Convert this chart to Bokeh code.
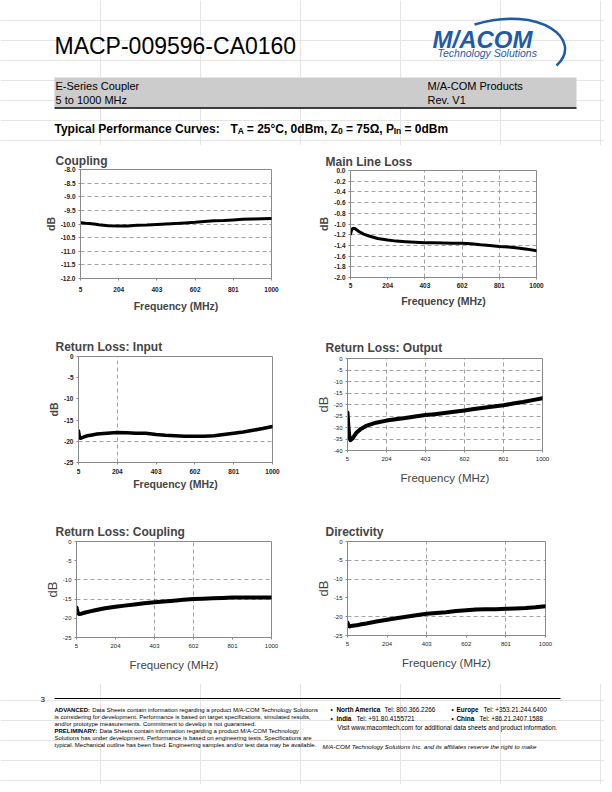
from bokeh.plotting import figure
from bokeh.layouts import column, row
from bokeh.models import Range1d, FixedTicker, NumeralTickFormatter
from bokeh.core.properties import value
from bokeh.embed import file_html
from bokeh.resources import INLINE

FONT = "Liberation Sans"

# ---------------- data ----------------
freq = [5, 10, 15, 20, 30, 50, 75, 100, 150, 204, 250, 300, 350, 403, 450,
        500, 550, 602, 650, 700, 750, 801, 850, 900, 950, 1000]

coupling = [-9.95, -9.95, -9.96, -9.96, -9.97, -9.98, -10.0, -10.03, -10.06, -10.07,
            -10.07, -10.05, -10.04, -10.02, -10.0, -9.98, -9.96, -9.94, -9.91, -9.88,
            -9.87, -9.85, -9.83, -9.82, -9.81, -9.8]
main_line_loss = [-1.19, -1.12, -1.09, -1.08, -1.09, -1.14, -1.19, -1.22, -1.27, -1.30,
                  -1.32, -1.33, -1.34, -1.35, -1.35, -1.355, -1.36, -1.36, -1.37, -1.39,
                  -1.40, -1.42, -1.43, -1.45, -1.47, -1.50]
rl_input = [-17.6, -19.0, -19.3, -19.2, -19.0, -18.7, -18.5, -18.3, -18.1, -17.9,
            -18.0, -18.1, -18.1, -18.4, -18.6, -18.7, -18.8, -18.8, -18.8, -18.7,
            -18.4, -18.1, -17.8, -17.4, -17.0, -16.5]
rl_output = [-23.5, -30.0, -34.5, -35.5, -34.8, -32.3, -30.5, -29.3, -27.9, -27.0,
             -26.4, -25.9, -25.2, -24.6, -24.2, -23.7, -23.2, -22.6, -22.0, -21.4,
             -20.9, -20.3, -19.6, -18.9, -18.1, -17.3]
rl_coupling = [-17.2, -18.3, -18.8, -18.9, -18.8, -18.5, -18.2, -17.9, -17.4, -17.0,
               -16.7, -16.4, -16.1, -15.8, -15.6, -15.4, -15.2, -15.0, -14.9, -14.8,
               -14.7, -14.6, -14.6, -14.6, -14.6, -14.6]
directivity = [-21.6, -22.4, -22.6, -22.5, -22.4, -22.3, -22.0, -21.8, -21.3, -20.8,
               -20.4, -20.0, -19.6, -19.2, -19.0, -18.8, -18.5, -18.3, -18.1, -18.0,
               -18.0, -17.9, -17.8, -17.7, -17.5, -17.2]

x_ticks = [5, 204, 403, 602, 801, 1000]
coupling_y_ticks = [-12.0, -11.5, -11.0, -10.5, -10.0, -9.5, -9.0, -8.5, -8.0]
mll_y_ticks = [-2.0, -1.8, -1.6, -1.4, -1.2, -1.0, -0.8, -0.6, -0.4, -0.2, 0.0]
rl25_y_ticks = [-25, -20, -15, -10, -5, 0]
rl40_y_ticks = [-40, -35, -30, -25, -20, -15, -10, -5, 0]

GRID = "#8a8a8a"
BLUE = "#1f5ba6"


def page_fig(y0, y1):
    p = figure(width=604, height=y1 - y0, x_range=Range1d(0, 604), y_range=Range1d(y1, y0),
               output_backend="svg", toolbar_location=None, min_border=0,
               x_axis_location=None, y_axis_location=None)
    p.outline_line_color = None
    p.background_fill_color = "white"
    p.border_fill_color = "white"
    return p


def txt(p, x, y, s, size, style="normal", color="black", align="left"):
    p.text(x=[x], y=[y], text=[s], text_font=value(FONT), text_font_size=size,
           text_font_style=style, text_color=color, text_align=align,
           text_baseline="alphabetic")


def make_chart(title, ys, y_lo, y_hi, y_ticks, y_fmt, ygrid, xgrid, width, height, borders,
               t_off, t_stand, classic, lw, xl_stand, xa_stand):
    mbl, mbr, mbt, mbb = borders
    p = figure(width=width, height=height, x_range=Range1d(5, 1000),
               y_range=Range1d(y_lo, y_hi), output_backend="svg", toolbar_location=None,
               min_border_left=mbl, min_border_right=mbr, min_border_top=mbt,
               min_border_bottom=mbb, title=title, frame_align=False)
    p.title.text_font = FONT
    p.title.text_font_size = "12px"
    p.title.text_font_style = "bold"
    p.title.align = "left"
    p.title.offset = t_off
    p.title.standoff = t_stand
    p.outline_line_color = GRID
    p.outline_line_width = 1
    p.background_fill_color = "white"
    p.border_fill_color = "white"

    p.xaxis.ticker = FixedTicker(ticks=x_ticks)
    p.yaxis.ticker = FixedTicker(ticks=y_ticks)
    p.yaxis.formatter = NumeralTickFormatter(format=y_fmt)
    for ax in (p.xaxis, p.yaxis):
        ax.axis_line_color = GRID
        ax.major_tick_line_color = GRID
        ax.major_tick_out = 2
        ax.major_tick_in = 0
        ax.minor_tick_line_color = None
        ax.major_label_text_font = FONT
        ax.major_label_text_font_size = "6.5px" if classic else "6px"
        ax.major_label_text_font_style = "bold" if classic else "normal"
        ax.major_label_text_color = "#222222"
        ax.axis_label_text_font = FONT
        ax.axis_label_text_font_style = "bold" if classic else "normal"
    p.yaxis.major_label_standoff = 3
    p.xaxis.major_label_standoff = xl_stand
    p.xaxis.axis_label = "Frequency (MHz)"
    p.yaxis.axis_label = "dB"
    p.xaxis.axis_label_text_font_size = "10.5px" if classic else "11.5px"
    p.yaxis.axis_label_text_font_size = "10.5px" if classic else "13px"
    p.xaxis.axis_label_standoff = xa_stand
    p.yaxis.axis_label_standoff = 1 if classic else 0

    p.xgrid.ticker = FixedTicker(ticks=xgrid)
    p.ygrid.ticker = FixedTicker(ticks=ygrid)
    for g in (p.xgrid, p.ygrid):
        g.grid_line_color = GRID
        g.grid_line_dash = "4 3"
        g.grid_line_width = 0.8

    p.line(freq, ys, line_color="black", line_width=lw, line_join="round", line_cap="round")
    return p


# ---------------- header ----------------
hdr = page_fig(0, 145)
txt(hdr, 54, 45, "MACP-009596-CA0160", "23px")
# logo
txt(hdr, 432, 39, "M/ACOM", "24px", style="bold italic", color=BLUE)
txt(hdr, 437, 52, "Technology Solutions", "10.5px", style="italic", color=BLUE)
hdr.bezier(x0=[474], y0=[24], cx0=[540], cy0=[4], cx1=[584], cy1=[40], x1=[556], y1=[65],
           line_color=BLUE, line_width=2.5)
# band
hdr.quad(left=[54], right=[576], top=[77], bottom=[107], fill_color="#cccccc", line_color=None)
hdr.segment(x0=[54], y0=[107.5], x1=[576], y1=[107.5], line_color="black", line_width=1.5)
txt(hdr, 55, 85, "E-Series Coupler", "11px")
txt(hdr, 55, 99, "5 to 1000 MHz", "11px")
txt(hdr, 427, 85, "M/A-COM Products", "11px")
txt(hdr, 427, 99, "Rev. V1", "11px")
# subtitle with subscripts
txt(hdr, 54, 128, "Typical Performance Curves:", "12px", style="bold")
txt(hdr, 230, 128, "T", "12px", style="bold")
txt(hdr, 237.3, 130, "A", "8.5px", style="bold")
txt(hdr, 246.3, 128, "= 25°C, 0dBm, Z", "12px", style="bold")
txt(hdr, 337.5, 130, "0", "8.5px", style="bold")
txt(hdr, 345.5, 128, "= 75Ω, P", "12px", style="bold")
txt(hdr, 393.2, 130, "In", "8.5px", style="bold")
txt(hdr, 404, 128, "= 0dBm", "12px", style="bold")

# ---------------- charts ----------------
c1 = make_chart("Coupling", coupling, -12, -8, coupling_y_ticks, "0.0",
                coupling_y_ticks[1:-1], [], 306, 173, (80, 35, 24, 40), -25, 3, True, 3, 6, 5)
c2 = make_chart("Main Line Loss", main_line_loss, -2, 0, mll_y_ticks, "0.0",
                mll_y_ticks[1:], [403, 602, 801], 298, 173, (44, 68, 25, 41), -25, 4, True, 3,
                3, 4)
c3 = make_chart("Return Loss: Input", rl_input, -25, 0, rl25_y_ticks, "0",
                [-20, 0], [204], 306, 185, (78, 34, 38, 41), -23, 5, True, 3.5, 4, 1)
c4 = make_chart("Return Loss: Output", rl_output, -40, 0, rl40_y_ticks, "0",
                rl40_y_ticks[1:], [204, 403, 602, 801], 298, 185, (41, 62, 40, 53), -22, 7,
                False, 4, 4, 8)
c5 = make_chart("Return Loss: Coupling", rl_coupling, -25, 0, rl25_y_ticks, "0",
                [-15, -10], [5, 403, 602], 306, 180, (76, 35, 38, 46), -21, 6, False, 4, 4, 8)
c6 = make_chart("Directivity", directivity, -25, 0, rl25_y_ticks, "0",
                [-20, -10, -5], [403, 801], 298, 180, (41, 59, 38, 48), -22, 6, False, 4, 4, 8)

# ---------------- footer ----------------
ftr = page_fig(683, 784)
txt(ftr, 40, 699, "3", "8px")
ftr.segment(x0=[54], y0=[698], x1=[560], y1=[698], line_color="black", line_width=1)
FS = "6px"
left_lines = [
    (709, "ADVANCED:", "Data Sheets contain information regarding a product M/A-COM Technology Solutions", 91.7),
    (716, None, "is considering for development. Performance is based on target specifications, simulated results,", 54),
    (723, None, "and/or prototype measurements. Commitment to develop is not guaranteed.", 54),
    (730, "PRELIMINARY:", "Data Sheets contain information regarding a product M/A-COM Technology", 99),
    (737, None, "Solutions has under development. Performance is based on engineering tests. Specifications are", 54),
    (744, None, "typical. Mechanical outline has been fixed. Engineering samples and/or test data may be available.", 54),
]
for y, b, s, x in left_lines:
    if b:
        txt(ftr, 54, y, b, FS, style="bold")
    txt(ftr, x, y, s, FS)
RS = "6.4px"
txt(ftr, 330, 709, "•", RS)
txt(ftr, 336, 709, "North America", RS, style="bold")
txt(ftr, 384, 709, "Tel: 800.366.2266", RS)
txt(ftr, 451, 709, "•", RS)
txt(ftr, 456, 709, "Europe", RS, style="bold")
txt(ftr, 483, 709, "Tel: +353.21.244.6400", RS)
txt(ftr, 330, 718, "•", RS)
txt(ftr, 336, 718, "India", RS, style="bold")
txt(ftr, 356, 718, "Tel: +91.80.4155721", RS)
txt(ftr, 451, 718, "•", RS)
txt(ftr, 456, 718, "China", RS, style="bold")
txt(ftr, 479, 718, "Tel: +86.21.2407.1588", RS)
txt(ftr, 337, 727, "Visit www.macomtech.com for additional data sheets and product information.", RS)
txt(ftr, 322, 746, "M/A-COM Technology Solutions Inc. and its affiliates reserve the right to make", "6.2px",
    style="italic")

page = column(hdr, row(c1, c2), row(c3, c4), row(c5, c6), ftr)

open("out.html", "w").write(file_html(page, INLINE))
